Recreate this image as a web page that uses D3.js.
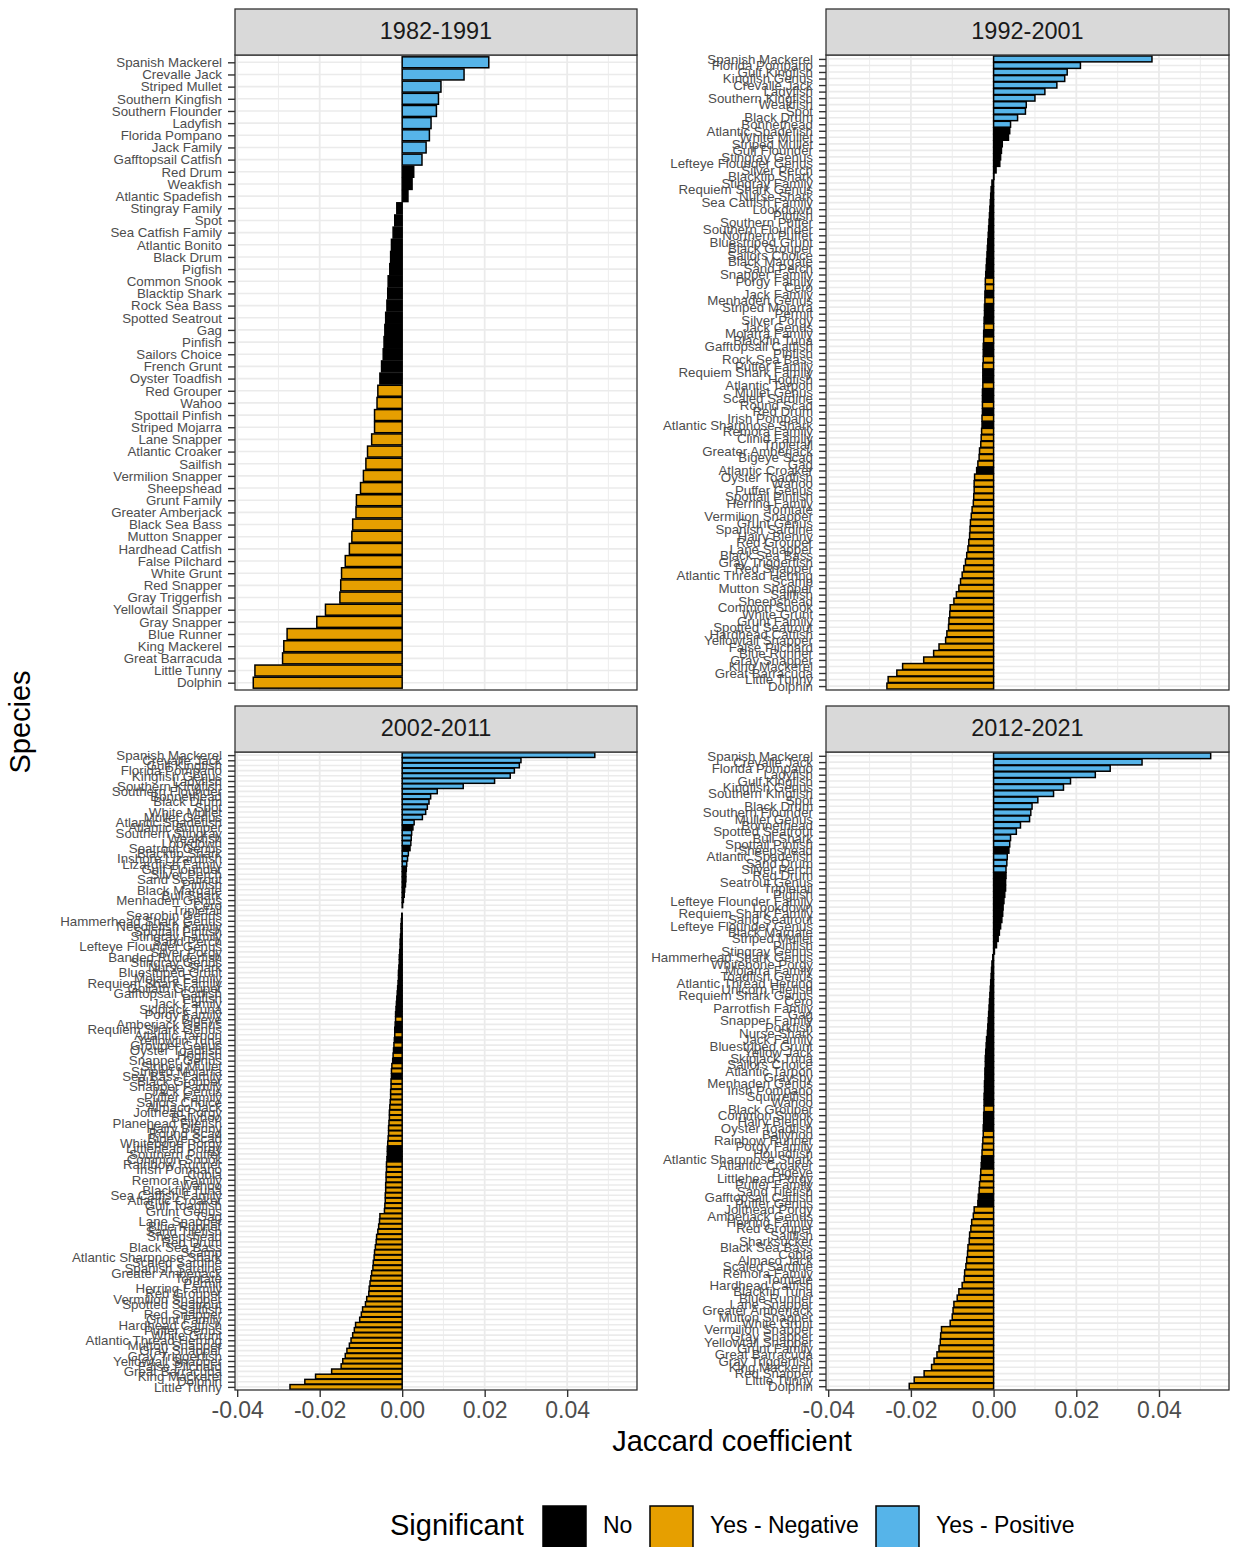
<!DOCTYPE html>
<html><head><meta charset="utf-8">
<script src="https://cdn.jsdelivr.net/npm/d3@7"></script>
<style>
body{margin:0;background:#fff}
svg{display:block}
text{font-family:"Liberation Sans",Arial,Helvetica,sans-serif}
</style>
</head><body><div id="chart"></div>
<script>
// ---------------- DATA ----------------
const periods = ["1982-1991","1992-2001","2002-2011","2012-2021"];

const species1 = ["Spanish Mackerel","Crevalle Jack","Striped Mullet","Southern Kingfish","Southern Flounder","Ladyfish","Florida Pompano","Jack Family","Gafftopsail Catfish","Red Drum",
"Weakfish","Atlantic Spadefish","Stingray Family","Spot","Sea Catfish Family","Atlantic Bonito","Black Drum","Pigfish","Common Snook","Blacktip Shark",
"Rock Sea Bass","Spotted Seatrout","Gag","Pinfish","Sailors Choice","French Grunt","Oyster Toadfish","Red Grouper","Wahoo","Spottail Pinfish",
"Striped Mojarra","Lane Snapper","Atlantic Croaker","Sailfish","Vermilion Snapper","Sheepshead","Grunt Family","Greater Amberjack","Black Sea Bass","Mutton Snapper",
"Hardhead Catfish","False Pilchard","White Grunt","Red Snapper","Gray Triggerfish","Yellowtail Snapper","Gray Snapper","Blue Runner","King Mackerel","Great Barracuda",
"Little Tunny","Dolphin"];
const values1 = [0.0210,0.0150,0.0094,0.0088,0.0083,0.0070,0.0066,0.0058,0.0048,0.0028,
0.0024,0.0014,-0.0013,-0.0018,-0.0022,-0.0026,-0.0028,-0.0030,-0.0034,-0.0035,
-0.0037,-0.0040,-0.0042,-0.0044,-0.0046,-0.0050,-0.0054,-0.0059,-0.0061,-0.0067,
-0.0067,-0.0074,-0.0084,-0.0088,-0.0094,-0.0101,-0.0111,-0.0112,-0.0120,-0.0122,
-0.0128,-0.0138,-0.0147,-0.0149,-0.0151,-0.0186,-0.0207,-0.0279,-0.0287,-0.0290,
-0.0357,-0.0361];
const sigRuns1 = [["P",9],["N",18],["M",25]];

const species2 = ["Spanish Mackerel","Florida Pompano","Gulf Kingfish","Kingfish Genus","Crevalle Jack","Ladyfish","Southern Kingfish","Weakfish","Spot","Black Drum",
"Bonnethead","Atlantic Spadefish","White Mullet","Striped Mullet","Gulf Flounder","Stingray Genus","Lefteye Flounder Genus","Silver Perch","Blacktip Shark","Stingray Family",
"Requiem Shark Genus","Nurse Shark","Sea Catfish Family","Lookdown","Pigfish","Southern Puffer","Southern Flounder","Northern Puffer","Bluestriped Grunt","Black Grouper",
"Sailors Choice","Black Margate","Sand Perch","Snapper Family","Porgy Family","Cero","Jack Family","Menhaden Genus","Striped Mojarra","Permit",
"Silver Porgy","Jack Genus","Mojarra Family","Blackfin Tuna","Gafftopsail Catfish","Pinfish","Rock Sea Bass","Puffer Family","Requiem Shark Family","Hogfish",
"Atlantic Tarpon","Mullet Genus","Scaled Sardine","Round Scad","Red Drum","Irish Pompano","Atlantic Sharpnose Shark","Remora Family","Clinid Family","Tripletail",
"Greater Amberjack","Bigeye Scad","Gag","Atlantic Croaker","Oyster Toadfish","Wahoo","Puffer Genus","Spottail Pinfish","Herring Family","Tomtate",
"Vermilion Snapper","Grunt Genus","Spanish Sardine","Hairy Blenny","Red Grouper","Lane Snapper","Black Sea Bass","Gray Triggerfish","Red Snapper","Atlantic Thread Herring",
"Scamp","Mutton Snapper","Sailfish","Sheepshead","Common Snook","White Grunt","Grunt Family","Spotted Seatrout","Hardhead Catfish","Yellowtail Snapper",
"False Pilchard","Blue Runner","Gray Snapper","King Mackerel","Great Barracuda","Little Tunny","Dolphin"];
const values2 = [0.0383,0.0210,0.0178,0.0172,0.0153,0.0124,0.0100,0.0079,0.0077,0.0058,
0.0041,0.0039,0.0036,0.0021,0.0019,0.0017,0.0015,0.0006,0.0001,-0.0004,
-0.0006,-0.0007,-0.0008,-0.0009,-0.0010,-0.0011,-0.0012,-0.0013,-0.0014,-0.0015,
-0.0016,-0.0017,-0.0018,-0.0019,-0.0020,-0.0020,-0.0021,-0.0021,-0.0022,-0.0022,
-0.0023,-0.0023,-0.0024,-0.0024,-0.0025,-0.0025,-0.0025,-0.0026,-0.0026,-0.0026,
-0.0026,-0.0027,-0.0027,-0.0027,-0.0027,-0.0028,-0.0028,-0.0029,-0.0030,-0.0031,
-0.0034,-0.0035,-0.0038,-0.0041,-0.0046,-0.0047,-0.0047,-0.0048,-0.0049,-0.0052,
-0.0054,-0.0056,-0.0057,-0.0058,-0.0060,-0.0062,-0.0065,-0.0068,-0.0072,-0.0076,
-0.0080,-0.0084,-0.0090,-0.0096,-0.0105,-0.0106,-0.0108,-0.0109,-0.0113,-0.0116,
-0.0132,-0.0145,-0.0169,-0.0220,-0.0234,-0.0255,-0.0258];
const sigRuns2 = [["P",11],["N",23],["M",2],["N",1],["M",1],["N",3],["M",1],["N",1],["M",1],["N",2],["M",2],["N",2],["M",1],["N",2],["M",1],["N",1],["M",1],["N",1],["M",6],["N",1],["M",33]];

const species3 = ["Spanish Mackerel","Crevalle Jack","Gulf Kingfish","Florida Pompano","Kingfish Genus","Ladyfish","Southern Kingfish","Southern Flounder","Bonnethead","Black Drum",
"Spot","White Mullet","Mullet Genus","Atlantic Spadefish","Atlantic Bumper","Southern Stingray","Weakfish","Lookdown","Seatrout Genus","Blacktip Shark",
"Inshore Lizardfish","Lizardfish Family","Gulf Flounder","Silver Perch","Sand Seatrout","Pinfish","Black Margate","Bull Shark","Menhaden Genus","Cero",
"Tripletail","Searobin Genus","Hammerhead Shark Genus","Needlefish Family","Spottail Pinfish","Stingray Family","Sand Perch","Lefteye Flounder Genus","Silver Porgy","Banded Rudderfish",
"Stingray Genus","Nurse Shark","Bluestriped Grunt","Mojarra Family","Requiem Shark Family","Goliath Grouper","Gafftopsail Catfish","Pigfish","Jack Family","Skipjack Tuna",
"Porgy Family","Bigeye","Amberjack Genus","Requiem Shark Genus","Atlantic Tarpon","Yellowfin Tuna","Grouper Genus","Oyster Toadfish","Hogfish","Snapper Genus",
"Striped Mullet","Striped Mojarra","Sea Bass Family","Black Grouper","Snapper Family","Jack Genus","Puffer Family","Sailors Choice","Almaco Jack","Jolthead Porgy",
"Ballyhoo","Planehead Filefish","Hairy Blenny","Round Scad","Bigeye Scad","Whitebone Porgy","Littlehead Porgy","Southern Puffer","Common Snook","Rainbow Runner",
"Irish Pompano","Cobia","Remora Family","Wahoo","Blackfin Tuna","Sea Catfish Family","Atlantic Croaker","Gulf Toadfish","Grunt Genus","Gag",
"Lane Snapper","Blue Runner","Sand Tilefish","Sheepshead","Red Drum","Black Sea Bass","Scamp","Atlantic Sharpnose Shark","Scaled Sardine","Spanish Sardine",
"Greater Amberjack","Tomtate","Permit","Herring Family","Red Grouper","Vermilion Snapper","Spotted Seatrout","Sailfish","Red Snapper","Grunt Family",
"Hardhead Catfish","Puffer Genus","White Grunt","Atlantic Thread Herring","Mutton Snapper","Gray Snapper","Gray Triggerfish","Yellowtail Snapper","False Pilchard","Great Barracuda",
"King Mackerel","Dolphin","Little Tunny"];
const values3 = [0.0467,0.0288,0.0284,0.0272,0.0262,0.0224,0.0148,0.0085,0.0069,0.0065,
0.0061,0.0057,0.0049,0.0029,0.0026,0.0023,0.0022,0.0021,0.0019,0.0015,
0.0013,0.0011,0.0010,0.0009,0.0009,0.0008,0.0006,0.0005,0.0003,0.0001,
0.0000,-0.0001,-0.0002,-0.0003,-0.0003,-0.0004,-0.0005,-0.0005,-0.0006,-0.0007,
-0.0007,-0.0008,-0.0009,-0.0009,-0.0010,-0.0011,-0.0012,-0.0013,-0.0014,-0.0015,
-0.0016,-0.0016,-0.0017,-0.0018,-0.0018,-0.0019,-0.0020,-0.0021,-0.0022,-0.0023,
-0.0025,-0.0026,-0.0026,-0.0027,-0.0027,-0.0028,-0.0028,-0.0029,-0.0030,-0.0031,
-0.0031,-0.0032,-0.0033,-0.0033,-0.0034,-0.0035,-0.0036,-0.0036,-0.0037,-0.0038,
-0.0038,-0.0039,-0.0039,-0.0040,-0.0040,-0.0041,-0.0041,-0.0042,-0.0043,-0.0054,
-0.0055,-0.0057,-0.0059,-0.0062,-0.0063,-0.0065,-0.0067,-0.0068,-0.0070,-0.0071,
-0.0074,-0.0076,-0.0078,-0.0080,-0.0081,-0.0086,-0.0089,-0.0096,-0.0099,-0.0103,
-0.0113,-0.0116,-0.0120,-0.0124,-0.0128,-0.0134,-0.0138,-0.0144,-0.0148,-0.0171,
-0.0210,-0.0236,-0.0272];
const sigRuns3 = [["P",14],["N",1],["P",3],["N",1],["P",3],["N",29],["M",1],["N",2],["M",1],["N",1],["M",1],["N",1],["M",1],["N",1],["M",2],["N",1],["M",13],["N",3],["M",44]];

const species4 = ["Spanish Mackerel","Crevalle Jack","Florida Pompano","Ladyfish","Gulf Kingfish","Kingfish Genus","Southern Kingfish","Spot","Black Drum","Southern Flounder",
"Mullet Genus","Bonnethead","Spotted Seatrout","Bull Shark","Spottail Pinfish","Sheepshead","Atlantic Spadefish","Sand Drum","Silver Perch","Red Drum",
"Seatrout Genus","Tripletail","Pigfish","Lefteye Flounder Family","Lookdown","Requiem Shark Family","Sand Seatrout","Lefteye Flounder Genus","Black Margate","Striped Mullet",
"Pinfish","Stingray Genus","Hammerhead Shark Genus","Whitebone Porgy","Mojarra Family","Toadfish Genus","Atlantic Thread Herring","Unicorn Filefish","Requiem Shark Genus","Cero",
"Parrotfish Family","Gag","Snapper Family","Porkfish","Nurse Shark","Jack Family","Bluestriped Grunt","Yellow Jack","Skipjack Tuna","Sailors Choice",
"Atlantic Tarpon","Graysby","Menhaden Genus","Irish Pompano","Squirrelfish","Wahoo","Black Grouper","Common Snook","Hairy Blenny","Oyster Toadfish",
"Ballyhoo","Rainbow Runner","Porgy Family","Houndfish","Atlantic Sharpnose Shark","Atlantic Croaker","Bigeye","Littlehead Porgy","Puffer Family","Sand Tilefish",
"Gafftopsail Catfish","Puffer Genus","Jolthead Porgy","Amberjack Genus","Herring Family","Red Grouper","Sailfish","Sharksucker","Black Sea Bass","Cobia",
"Almaco Jack","Scaled Sardine","Remora Family","Tomtate","Hardhead Catfish","Blackfin Tuna","Blue Runner","Lane Snapper","Greater Amberjack","Mutton Snapper",
"White Grunt","Vermilion Snapper","Gray Snapper","Yellowtail Snapper","Grunt Family","Great Barracuda","Gray Triggerfish","King Mackerel","Red Snapper","Little Tunny",
"Dolphin"];
const values4 = [0.0525,0.0359,0.0282,0.0246,0.0186,0.0169,0.0145,0.0107,0.0093,0.0090,
0.0087,0.0065,0.0055,0.0041,0.0039,0.0037,0.0033,0.0032,0.0030,0.0030,
0.0029,0.0029,0.0027,0.0025,0.0023,0.0022,0.0020,0.0017,0.0014,0.0011,
0.0007,0.0002,-0.0002,-0.0004,-0.0005,-0.0006,-0.0007,-0.0008,-0.0009,-0.0010,
-0.0011,-0.0012,-0.0013,-0.0014,-0.0015,-0.0017,-0.0018,-0.0019,-0.0020,-0.0020,
-0.0021,-0.0021,-0.0022,-0.0022,-0.0023,-0.0023,-0.0023,-0.0024,-0.0024,-0.0025,
-0.0025,-0.0026,-0.0027,-0.0028,-0.0029,-0.0030,-0.0031,-0.0032,-0.0034,-0.0035,
-0.0037,-0.0038,-0.0047,-0.0049,-0.0053,-0.0055,-0.0058,-0.0059,-0.0062,-0.0063,
-0.0065,-0.0067,-0.0070,-0.0071,-0.0076,-0.0084,-0.0088,-0.0096,-0.0098,-0.0100,
-0.0105,-0.0126,-0.0128,-0.0129,-0.0132,-0.0137,-0.0144,-0.0150,-0.0168,-0.0192,
-0.0204];
const sigRuns4 = [["P",15],["N",1],["P",3],["N",37],["M",1],["N",3],["M",4],["N",2],["M",4],["N",2],["M",29]];

const xTicks = [-0.04,-0.02,0.00,0.02,0.04];
const xMinorTicks = [-0.03,-0.01,0.01,0.03,0.05];
const sigLevels = ["No","Yes - Negative","Yes - Positive"];
const sigColors = ["#000000","#E69F00","#56B4E9"];
const sigCodes = {N:"No", M:"Yes - Negative", P:"Yes - Positive"};

// ---------------- DRAW ----------------
const W = 1233, H = 1547;
const svg = d3.select("#chart").append("svg").attr("width", W).attr("height", H);
svg.append("rect").attr("width", W).attr("height", H).attr("fill", "#fff");

const color = d3.scaleOrdinal().domain(sigLevels).range(sigColors);
const expandRuns = runs => runs.flatMap(([c, n]) => Array(n).fill(sigCodes[c]));

const panels = [
  {title: periods[0], species: species1, values: values1, sig: expandRuns(sigRuns1), x0: 235, x1: 637, sTop: 9,   top: 55,  bottom: 690,  xaxis: false},
  {title: periods[1], species: species2, values: values2, sig: expandRuns(sigRuns2), x0: 826, x1: 1229, sTop: 9,  top: 55,  bottom: 690,  xaxis: false},
  {title: periods[2], species: species3, values: values3, sig: expandRuns(sigRuns3), x0: 235, x1: 637, sTop: 706, top: 752, bottom: 1390, xaxis: true},
  {title: periods[3], species: species4, values: values4, sig: expandRuns(sigRuns4), x0: 826, x1: 1229, sTop: 706, top: 752, bottom: 1390, xaxis: true}
];

const allVals = [].concat(values1, values2, values3, values4);
const lo = d3.min(allVals), hi = d3.max(allVals), ex = (hi - lo) * 0.05;

panels.forEach(p => {
  const n = p.species.length;
  const x = d3.scaleLinear().domain([lo - ex, hi + ex]).range([p.x0, p.x1]);
  const y = d3.scalePoint().domain(d3.range(n)).range([p.top, p.bottom]).padding(0.6);
  const step = y.step();
  const g = svg.append("g");

  g.append("rect").attr("x", p.x0).attr("y", p.top).attr("width", p.x1 - p.x0).attr("height", p.bottom - p.top).attr("fill", "#fff");

  // grid
  g.selectAll(".minor").data(xMinorTicks.filter(t => x(t) < p.x1)).join("line")
    .attr("x1", d => x(d)).attr("x2", d => x(d)).attr("y1", p.top).attr("y2", p.bottom)
    .attr("stroke", "#ebebeb").attr("stroke-width", 0.9);
  g.selectAll(".hgrid").data(d3.range(n)).join("line")
    .attr("x1", p.x0).attr("x2", p.x1).attr("y1", d => y(d)).attr("y2", d => y(d))
    .attr("stroke", "#ebebeb").attr("stroke-width", 1.6);
  g.selectAll(".major").data(xTicks).join("line")
    .attr("x1", d => x(d)).attr("x2", d => x(d)).attr("y1", p.top).attr("y2", p.bottom)
    .attr("stroke", "#ebebeb").attr("stroke-width", 1.8);

  // bars
  const data = p.species.map((s, i) => ({i, s, v: p.values[i], g: p.sig[i]}));
  g.selectAll(".bar").data(data).join("rect")
    .attr("x", d => x(Math.min(0, d.v)))
    .attr("width", d => Math.abs(x(d.v) - x(0)))
    .attr("y", d => y(d.i) - 0.45 * step)
    .attr("height", 0.9 * step)
    .attr("fill", d => color(d.g))
    .attr("stroke", "#000").attr("stroke-width", 1.5);

  // panel border
  g.append("rect").attr("x", p.x0).attr("y", p.top).attr("width", p.x1 - p.x0).attr("height", p.bottom - p.top)
    .attr("fill", "none").attr("stroke", "#333").attr("stroke-width", 1.3);

  // strip
  g.append("rect").attr("x", p.x0).attr("y", p.sTop).attr("width", p.x1 - p.x0).attr("height", p.top - p.sTop)
    .attr("fill", "#d9d9d9").attr("stroke", "#333").attr("stroke-width", 1.3);
  g.append("text").attr("x", (p.x0 + p.x1) / 2).attr("y", (p.sTop + p.top) / 2 + 1)
    .attr("text-anchor", "middle").attr("dominant-baseline", "middle")
    .attr("font-size", 23.5).attr("fill", "#1a1a1a").text(p.title);

  // y axis
  const ya = g.append("g").attr("transform", `translate(${p.x0},0)`)
    .call(d3.axisLeft(y).tickSize(7).tickPadding(6).tickFormat(i => p.species[i]));
  ya.select(".domain").remove();
  ya.selectAll("line").attr("stroke", "#333").attr("stroke-width", 1.4);
  ya.selectAll("text").attr("font-size", 13.3).attr("fill", "#4d4d4d").attr("font-family", '"Liberation Sans",Arial,sans-serif');

  if (p.xaxis) {
    const xa = g.append("g").attr("transform", `translate(0,${p.bottom})`)
      .call(d3.axisBottom(x).tickValues(xTicks).tickSize(7).tickPadding(5).tickFormat(d => d.toFixed(2)));
    xa.select(".domain").remove();
    xa.selectAll("line").attr("stroke", "#333").attr("stroke-width", 1.4);
    xa.selectAll("text").attr("font-size", 23).attr("fill", "#4d4d4d").attr("font-family", '"Liberation Sans",Arial,sans-serif');
  }
});

// axis titles
svg.append("text").attr("x", 732).attr("y", 1443).attr("text-anchor", "middle").attr("dominant-baseline", "middle")
  .attr("font-size", 29).attr("fill", "#000").text("Jaccard coefficient");
svg.append("text").attr("transform", "translate(22,722) rotate(-90)").attr("text-anchor", "middle").attr("dominant-baseline", "middle")
  .attr("font-size", 29).attr("fill", "#000").text("Species");

// legend
const leg = svg.append("g");
leg.append("text").attr("x", 390).attr("y", 1527).attr("dominant-baseline", "middle").attr("font-size", 29).attr("fill", "#000").text("Significant");
const keyX = [543, 650, 876];
sigLevels.forEach((lvl, i) => {
  leg.append("rect").attr("x", keyX[i]).attr("y", 1506).attr("width", 43).attr("height", 42)
    .attr("fill", color(lvl)).attr("stroke", "#000").attr("stroke-width", 1.5);
  leg.append("text").attr("x", keyX[i] + 60).attr("y", 1527).attr("dominant-baseline", "middle")
    .attr("font-size", 23).attr("fill", "#000").text(lvl);
});
</script>
</body></html>
